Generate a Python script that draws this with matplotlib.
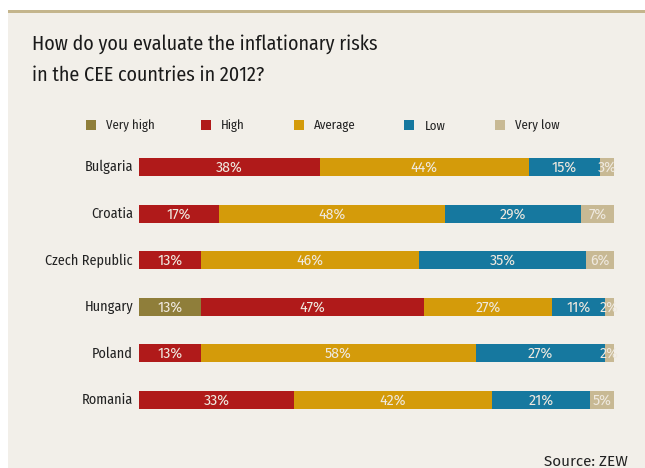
import numpy as np
import matplotlib.pyplot as plt
from matplotlib.patches import Rectangle

# Daten
laender = ["Bulgaria", "Croatia", "Czech Republic", "Hungary", "Poland", "Romania"]
kategorien = ["Very high", "High", "Average", "Low", "Very low"]
very_high = [0, 0, 0, 13, 0, 0]
high = [38, 17, 13, 47, 13, 33]
average = [44, 48, 46, 27, 58, 42]
low = [15, 29, 35, 11, 27, 21]
very_low = [3, 7, 6, 2, 2, 5]
farben = ["#8F7E3A", "#B01A1A", "#D49B0A", "#16789F", "#C8B994"]

W, H = 645, 468
bg = "#F2EFE9"
plt.rcParams["font.family"] = ["Fira Sans Condensed", "DejaVu Sans"]
breit = ["Fira Sans", "DejaVu Sans"]

def fx(px):
    return px / W

def fy(py):
    return 1 - py / H

fig = plt.figure(figsize=(W / 100, H / 100), dpi=100)
fig.patch.set_facecolor("white")

# Hintergrund-Panel und Linie oben
fig.patches.append(Rectangle((fx(8), 0), 1 - fx(8), fy(12), transform=fig.transFigure,
                             facecolor=bg, edgecolor="none", zorder=-10))
fig.patches.append(Rectangle((fx(8), fy(13)), 1 - fx(8), 3 / H, transform=fig.transFigure,
                             facecolor="#C4B58C", edgecolor="none", zorder=-10))

fig.text(fx(32), fy(50), "How do you evaluate the inflationary risks",
         fontsize=14.4, color="#1a1a1a", va="baseline", ha="left")
fig.text(fx(32), fy(81), "in the CEE countries in 2012?",
         fontsize=14.4, color="#1a1a1a", va="baseline", ha="left")

# Legende
leg_sq = [86, 201, 294, 404, 495]
leg_txt = [106, 221, 314, 425, 515]
for kat, f, sx, tx in zip(kategorien, farben, leg_sq, leg_txt):
    fig.patches.append(Rectangle((fx(sx), fy(130)), 10 / W, 10 / H,
                                 transform=fig.transFigure, facecolor=f,
                                 edgecolor="none"))
    fig.text(fx(tx), fy(129.5), kat, fontsize=9.2, color="#222222",
             va="baseline", ha="left")

# Balken
row0, step = 167, 46.6
top_px = row0 - step / 2
bot_px = row0 + step * 5.5
ax = fig.add_axes([fx(139), fy(bot_px), fx(614) - fx(139), (bot_px - top_px) / H])
ax.set_xlim(0, 100)
ax.set_ylim(5.5, -0.5)
ax.axis("off")

werte = np.array([very_high, high, average, low, very_low], dtype=float)
summen = werte.sum(axis=0)
links = np.zeros(len(laender))
y = np.arange(len(laender))
for k, f in enumerate(farben):
    breite = werte[k] / summen * 100
    ax.barh(y, breite, left=links, height=0.39, color=f, edgecolor="none")
    for i in range(len(laender)):
        if werte[k, i] > 0:
            ax.text(links[i] + breite[i] / 2, y[i] + 0.1, f"{int(werte[k, i])}%",
                    ha="center", va="baseline", color="#EFE9DF", fontsize=10.3,
                    family=breit)
    links += breite

for i, land in enumerate(laender):
    fig.text(fx(133), fy(row0 + step * i + 4.5), land, ha="right", va="baseline",
             fontsize=10.2, color="#222222")

fig.text(fx(628), fy(466), "Source: ZEW", ha="right", va="baseline",
         fontsize=11, color="#222222", family=breit)

fig.savefig("out.png", dpi=100, facecolor=fig.get_facecolor())
